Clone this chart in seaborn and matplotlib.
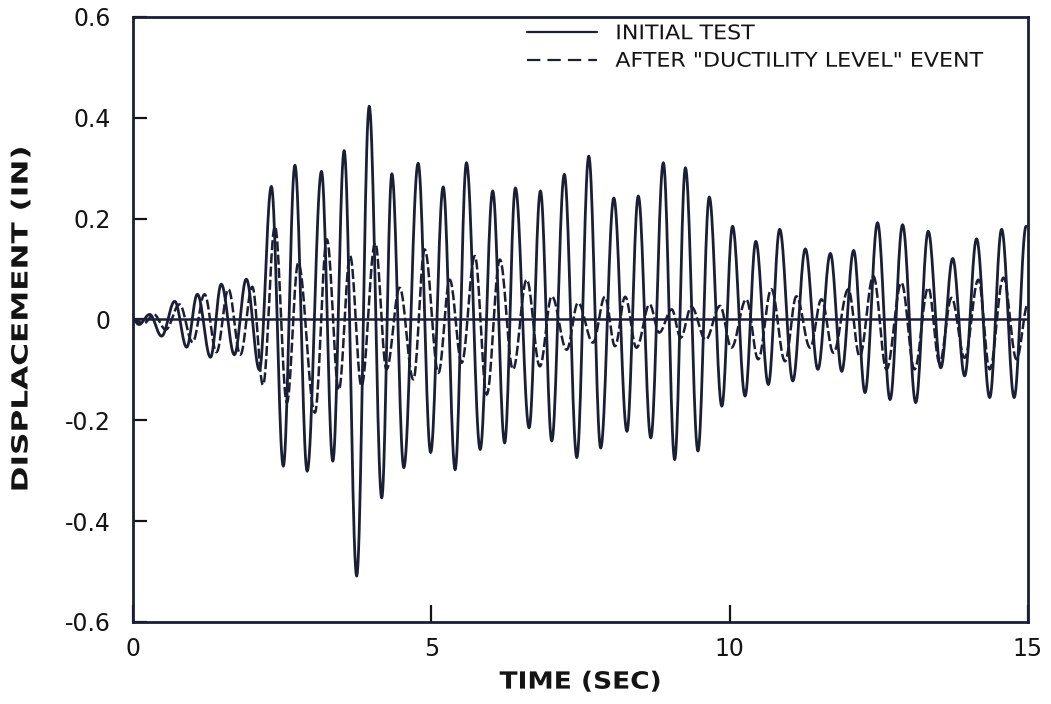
import numpy as np
import pandas as pd
import matplotlib
matplotlib.use("Agg")
import matplotlib.pyplot as plt
import seaborn as sns
from matplotlib.patheffects import AbstractPathEffect
from matplotlib.transforms import Affine2D
from matplotlib.lines import Line2D

# Turning points (time in sec, displacement in inches) of each record
initial_t = [0.00, 0.10, 0.28, 0.48, 0.70, 0.90, 1.08, 1.30, 1.48, 1.70, 1.90, 2.12,
             2.32, 2.52, 2.715, 2.92, 3.16, 3.35, 3.54, 3.75, 3.96, 4.17, 4.34, 4.54,
             4.78, 4.99, 5.20, 5.40, 5.59, 5.82, 6.03, 6.23, 6.41, 6.64, 6.83, 7.02,
             7.23, 7.44, 7.64, 7.84, 8.06, 8.28, 8.47, 8.68, 8.89, 9.08, 9.26, 9.47,
             9.66, 9.87, 10.05, 10.26, 10.44, 10.65, 10.84, 11.06, 11.27, 11.48, 11.69,
             11.88, 12.08, 12.27, 12.48, 12.69, 12.90, 13.12, 13.33, 13.54, 13.74,
             13.94, 14.14, 14.36, 14.56, 14.77, 14.97]
initial_v = [0.000, -0.010, 0.010, -0.033, 0.036, -0.055, 0.050, -0.075, 0.070, -0.070,
             0.080, -0.100, 0.264, -0.291, 0.306, -0.301, 0.294, -0.281, 0.335, -0.509,
             0.423, -0.354, 0.289, -0.294, 0.310, -0.264, 0.263, -0.298, 0.311, -0.258,
             0.255, -0.245, 0.261, -0.215, 0.255, -0.241, 0.288, -0.274, 0.324, -0.255,
             0.241, -0.222, 0.245, -0.235, 0.311, -0.278, 0.301, -0.261, 0.243, -0.172,
             0.185, -0.152, 0.155, -0.129, 0.179, -0.122, 0.140, -0.099, 0.131, -0.103,
             0.137, -0.145, 0.192, -0.159, 0.188, -0.165, 0.175, -0.096, 0.121, -0.112,
             0.160, -0.155, 0.179, -0.155, 0.185]

after_t = [0.00, 0.18, 0.35, 0.55, 0.78, 1.00, 1.20, 1.40, 1.60, 1.80, 2.00, 2.18,
           2.38, 2.58, 2.77, 3.05, 3.25, 3.45, 3.64, 3.83, 4.06, 4.25, 4.47, 4.70,
           4.89, 5.12, 5.31, 5.51, 5.73, 5.93, 6.15, 6.37, 6.60, 6.82, 7.02, 7.27,
           7.46, 7.71, 7.91, 8.08, 8.25, 8.44, 8.66, 8.82, 9.03, 9.18, 9.36, 9.60,
           9.84, 10.03, 10.28, 10.48, 10.70, 10.93, 11.12, 11.35, 11.54, 11.74, 11.99,
           12.18, 12.41, 12.63, 12.88, 13.10, 13.33, 13.52, 13.72, 13.94, 14.17,
           14.36, 14.59, 14.81, 15.00]
after_v = [0.000, -0.008, 0.010, -0.020, 0.030, -0.045, 0.050, -0.065, 0.060, -0.070,
           0.065, -0.130, 0.185, -0.165, 0.112, -0.185, 0.159, -0.140, 0.126, -0.132,
           0.152, -0.099, 0.063, -0.119, 0.139, -0.106, 0.079, -0.086, 0.126, -0.149,
           0.119, -0.099, 0.079, -0.093, 0.046, -0.060, 0.033, -0.046, 0.045, -0.053,
           0.045, -0.056, 0.030, -0.026, 0.020, -0.036, 0.025, -0.040, 0.027, -0.056,
           0.040, -0.079, 0.060, -0.083, 0.046, -0.056, 0.040, -0.066, 0.060, -0.073,
           0.086, -0.099, 0.073, -0.099, 0.063, -0.086, 0.043, -0.076, 0.079, -0.099,
           0.083, -0.079, 0.030]

series_labels = ["INITIAL TEST", 'AFTER "DUCTILITY LEVEL" EVENT']
x_ticks = [0, 5, 10, 15]
x_tick_labels = ["0", "5", "10", "15"]
y_ticks = [-0.6, -0.4, -0.2, 0.0, 0.2, 0.4, 0.6]
y_tick_labels = ["-0.6", "-0.4", "-0.2", "0", "0.2", "0.4", "0.6"]

INK = "#1b1f36"
TEXT = "#141414"


def trace(t, v, n=20):
    """Join successive turning points with half-cosine swings."""
    t = np.asarray(t, float)
    v = np.asarray(v, float)
    ts, vs = [t[0]], [v[0]]
    s = np.linspace(0, 1, n + 1)[1:]
    w = (1 - np.cos(np.pi * s)) / 2
    for i in range(len(t) - 1):
        ts.extend(t[i] + (t[i + 1] - t[i]) * s)
        vs.extend(v[i] + (v[i + 1] - v[i]) * w)
    return pd.DataFrame({"t": ts, "v": vs})


class Stretch(AbstractPathEffect):
    """Widen lettering along its baseline."""

    def __init__(self, sx, center=True):
        super().__init__()
        self.sx = sx
        self.center = center

    def draw_path(self, renderer, gc, tpath, affine, rgbFace=None):
        c = 0.0
        if self.center and len(tpath.vertices):
            c = tpath.vertices[:, 0].max() / 2
        pre = Affine2D().translate(-c, 0).scale(self.sx, 1).translate(c, 0)
        renderer.draw_path(gc, tpath, pre + affine, rgbFace)


sns.set_theme(style="white")
plt.rcParams["font.family"] = ["DejaVu Sans"]

fig = plt.figure(figsize=(10.51, 7.04), dpi=100)
ax = fig.add_axes([0.1265, 0.1165, 0.8515, 0.8594])

df_a = trace(initial_t, initial_v)
df_b = trace(after_t, after_v)

ax.axhline(0, color=INK, lw=1.8, zorder=1)
sns.lineplot(data=df_b, x="t", y="v", ax=ax, sort=False, estimator=None,
             color=INK, lw=1.8, linestyle=(0, (4.0, 1.3)), zorder=2)
sns.lineplot(data=df_a, x="t", y="v", ax=ax, sort=False, estimator=None,
             color=INK, lw=2.0, zorder=3)

ax.set_xlim(0, 15)
ax.set_ylim(-0.6, 0.6)
ax.set_xticks(x_ticks)
ax.set_xticklabels(x_tick_labels)
ax.set_yticks(y_ticks)
ax.set_yticklabels(y_tick_labels)
ax.tick_params(axis="both", direction="in", colors=TEXT, labelsize=17,
               width=1.6, left=True, bottom=True)
ax.tick_params(axis="y", length=10, pad=16)
ax.tick_params(axis="x", length=12, pad=11)
for sp in ax.spines.values():
    sp.set_color(INK)
    sp.set_linewidth(2.0)

xl = ax.set_xlabel("TIME (SEC)", fontsize=17, fontweight="bold", color=TEXT, labelpad=6)
yl = ax.set_ylabel("DISPLACEMENT (IN)", fontsize=16, fontweight="bold", color=TEXT,
                   labelpad=24)
xl.set_path_effects([Stretch(1.12)])
yl.set_path_effects([Stretch(1.4)])

handles = [Line2D([], [], color=INK, lw=1.6),
           Line2D([], [], color=INK, lw=1.6, linestyle=(0, (6, 3.2)))]
leg = ax.legend(handles, series_labels, loc="upper left", bbox_to_anchor=(0.440, 0.988),
                frameon=False, fontsize=14.5, handlelength=3.5, handletextpad=0.9,
                labelspacing=0.42, borderaxespad=0, borderpad=0)
for txt in leg.get_texts():
    txt.set_color(TEXT)
    txt.set_path_effects([Stretch(1.1, center=False)])

fig.savefig("out.png", dpi=100)
